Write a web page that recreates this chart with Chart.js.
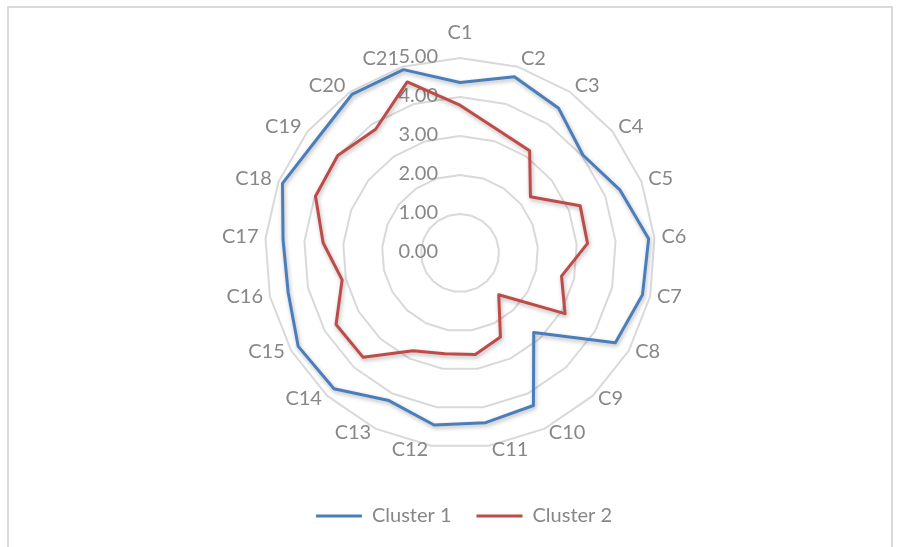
<!DOCTYPE html>
<html>
<head>
<meta charset="utf-8">
<script src="https://cdn.jsdelivr.net/npm/chart.js@4.4.1/dist/chart.umd.min.js"></script>
<style>
  html, body { margin: 0; padding: 0; background: #ffffff; }
  #wrap { position: relative; width: 900px; height: 547px; overflow: hidden; }
  #frame {
    position: absolute; left: 7px; top: 6px; width: 886px; height: 600px;
    border: 2px solid #d9d9d9; box-sizing: border-box;
  }
  #radar { position: absolute; left: 0; top: 0; }
</style>
</head>
<body>
<div id="wrap">
  <div id="frame"></div>
  <canvas id="radar" width="900" height="547"></canvas>
</div>
<script>
// Categories round the rim
const categories = ['C1', 'C2', 'C3', 'C4', 'C5', 'C6', 'C7', 'C8', 'C9', 'C10', 'C11',
                    'C12', 'C13', 'C14', 'C15', 'C16', 'C17', 'C18', 'C19', 'C20', 'C21'];

// Mean score per category for each cluster
const cluster1 = [4.37, 4.73, 4.49, 4.03, 4.41, 4.85, 4.80, 4.60, 2.78, 4.34, 4.40,
                  4.46, 4.20, 4.75, 4.79, 4.52, 4.55, 4.89, 4.69, 4.92, 4.92];
const cluster2 = [3.79, 3.30, 3.17, 2.31, 3.31, 3.28, 2.67, 3.11, 1.46, 2.39, 2.63,
                  2.61, 2.78, 3.65, 3.67, 3.10, 3.52, 3.98, 4.01, 3.84, 4.59];

// Radial axis labels
const tickLabels = ['0.00', '1.00', '2.00', '3.00', '4.00', '5.00'];

const seriesNames = ['Cluster 1', 'Cluster 2'];

const FONT_FAMILY = 'Lato, "Open Sans", sans-serif';
const FONT_SIZE = 20;
const TEXT_COLOR = '#878787';
const GRID_COLOR = '#d9d9d9';
const BLUE = '#4a7ebb';
const RED = '#be4b48';

// Placement of the web inside the canvas
const WEB = { cx: 460, cy: 253, radius: 195 };

// Soft drop shadow under each series line
const lineShadow = {
  id: 'lineShadow',
  beforeDatasetDraw(chart) {
    const c = chart.ctx;
    c.save();
    c.shadowColor = 'rgba(0, 0, 0, 0.3)';
    c.shadowBlur = 4;
    c.shadowOffsetX = 1;
    c.shadowOffsetY = 2;
  },
  afterDatasetDraw(chart) {
    chart.ctx.restore();
  }
};

// Category names round the rim and value labels up the first spoke
const axisText = {
  id: 'axisText',
  beforeDatasetsDraw(chart) {
    const scale = chart.scales.r;
    const ctx = chart.ctx;
    ctx.save();
    ctx.font = FONT_SIZE + 'px ' + FONT_FAMILY;
    ctx.fillStyle = TEXT_COLOR;
    ctx.textBaseline = 'middle';

    chart.data.labels.forEach((label, i) => {
      const p = scale.getPointPosition(i, scale.drawingArea);
      const a = scale.getIndexAngle(i);
      const s = Math.sin(a);
      const c = Math.cos(a);
      if (Math.abs(s) < 0.01) {
        ctx.textAlign = 'center';
        ctx.fillText(label, p.x, c > 0 ? p.y - 25 : p.y + 25);
        return;
      }
      const gap = 2 + 5 * Math.abs(s);
      const dy = c > 0 ? -(1 + 7 * c) : -(1 + 5 * c);
      ctx.textAlign = s > 0 ? 'left' : 'right';
      ctx.fillText(label, p.x + (s > 0 ? gap : -gap), p.y + dy);
    });

    ctx.textAlign = 'right';
    scale.ticks.forEach((tick) => {
      const d = scale.getDistanceFromCenterForValue(tick.value);
      ctx.fillText(tick.label, scale.xCenter - 22, scale.yCenter - d - 1);
    });
    ctx.restore();
  }
};

const seriesStyle = (color) => ({
  borderColor: color,
  backgroundColor: color,
  borderWidth: 3,
  borderJoinStyle: 'round',
  fill: false,
  pointRadius: 0,
  pointHoverRadius: 0,
  clip: false
});

new Chart(document.getElementById('radar'), {
  type: 'radar',
  data: {
    labels: categories,
    datasets: [
      Object.assign({ label: seriesNames[0], data: cluster1 }, seriesStyle(BLUE)),
      Object.assign({ label: seriesNames[1], data: cluster2 }, seriesStyle(RED))
    ]
  },
  options: {
    responsive: false,
    animation: false,
    devicePixelRatio: 1,
    layout: { padding: { left: 28, right: 0, top: 0, bottom: 11 } },
    plugins: {
      tooltip: { enabled: false },
      legend: {
        position: 'bottom',
        labels: {
          font: { family: FONT_FAMILY, size: FONT_SIZE },
          color: TEXT_COLOR,
          boxWidth: 46,
          boxHeight: 3,
          padding: 25,
          generateLabels(chart) {
            return Chart.defaults.plugins.legend.labels.generateLabels(chart)
              .map((item) => Object.assign(item, { lineWidth: 0, fillStyle: item.strokeStyle }));
          }
        }
      }
    },
    scales: {
      r: {
        min: 0,
        max: 5,
        ticks: {
          stepSize: 1,
          display: false,
          callback: (value, index) => tickLabels[index]
        },
        grid: { color: GRID_COLOR, lineWidth: 2 },
        angleLines: { display: false },
        pointLabels: { display: false },
        afterSetDimensions(scale) {
          scale.xCenter = WEB.cx;
          scale.yCenter = WEB.cy;
          scale.drawingArea = WEB.radius;
        }
      }
    }
  },
  plugins: [lineShadow, axisText]
});
</script>
</body>
</html>
